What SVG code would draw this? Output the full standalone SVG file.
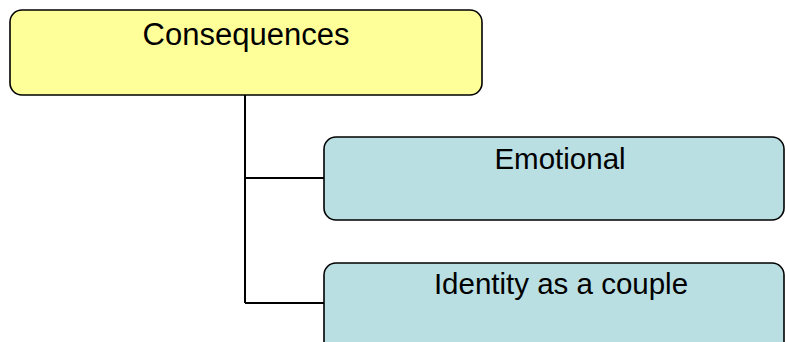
<svg xmlns="http://www.w3.org/2000/svg" width="785" height="342" viewBox="0 0 785 342">
<style>
.box{stroke:#000;stroke-width:1.6}
.root{fill:#FFFF99}
.child{fill:#B9DFE2}
.lbl{font-family:"Liberation Sans",Arial,sans-serif;font-size:29.5px;fill:#000;text-anchor:middle}
.conn{fill:none;stroke:#000;stroke-width:2}
</style>
<g id="connectors">
<path class="conn" d="M245,95 V303 M245,178 H324 M245,303 H324"/>
</g>
<g id="node-consequences">
<rect class="box root" x="10" y="10" width="472" height="85" rx="12"/>
<text class="lbl" x="246" y="45" style="font-size:31px">Consequences</text>
</g>
<g id="node-emotional">
<rect class="box child" x="324" y="137" width="460" height="83" rx="12"/>
<text class="lbl" x="560" y="169">Emotional</text>
</g>
<g id="node-identity">
<rect class="box child" x="324" y="263" width="460" height="100" rx="12"/>
<text class="lbl" x="561" y="294">Identity as a couple</text>
</g>
</svg>
